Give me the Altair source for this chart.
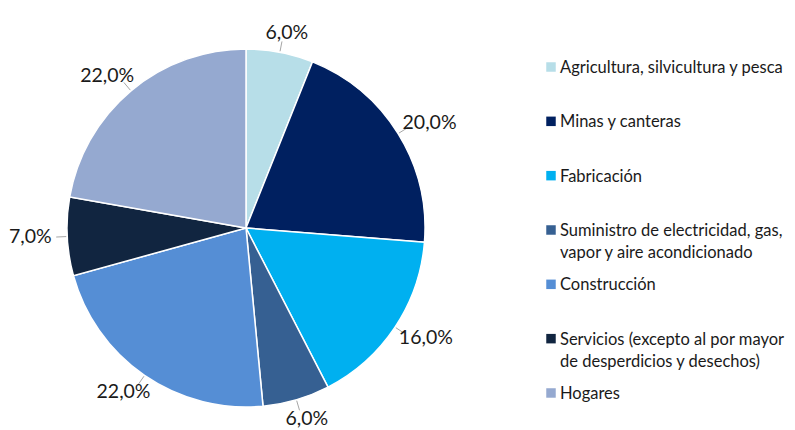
import altair as alt
import pandas as pd

categories = [
    "Agricultura, silvicultura y pesca",
    "Minas y canteras",
    "Fabricación",
    "Suministro de electricidad, gas, vapor y aire acondicionado",
    "Construcción",
    "Servicios (excepto al por mayor de desperdicios y desechos)",
    "Hogares",
]
legend_labels = [
    "Agricultura, silvicultura y pesca",
    "Minas y canteras",
    "Fabricación",
    "Suministro de electricidad, gas,\nvapor y aire acondicionado",
    "Construcción",
    "Servicios (excepto al por mayor\nde desperdicios y desechos)",
    "Hogares",
]
values = [6.0, 20.0, 16.0, 6.0, 22.0, 7.0, 22.0]
pct_labels = ["6,0%", "20,0%", "16,0%", "6,0%", "22,0%", "7,0%", "22,0%"]
colors = ["#B7DEE8", "#002060", "#00B0F0", "#366092", "#558ED5", "#112540", "#95A9D0"]

df = pd.DataFrame({
    "cat": categories,
    "value": values,
    "label": pct_labels,
    "legend": legend_labels,
    "idx": list(range(len(categories))),
})

FONT = "Lato"
CX, CY, RAD = 238, 220, 179
R_LBL, W_HALF, H_HALF = 190, 26, 9

color = alt.Color("cat:N", scale=alt.Scale(domain=categories, range=colors), legend=None)

base = (
    alt.Chart(df)
    .transform_joinaggregate(total="sum(value)")
    .transform_window(cum="sum(value)", sort=[alt.SortField("idx")])
    .transform_calculate(mid="2*PI*(datum.cum - datum.value/2)/datum.total")
)

arcs = alt.Chart(df).mark_arc(outerRadius=RAD, stroke="white", strokeWidth=1.5).encode(
    theta=alt.Theta("value:Q", stack=True),
    color=color,
    order=alt.Order("idx:Q"),
    x=alt.value(CX),
    y=alt.value(CY),
)

leaders = base.transform_calculate(
    x1=f"{CX} + {RAD + 1}*sin(datum.mid)",
    y1=f"{CY} - {RAD + 1}*cos(datum.mid)",
    x2=f"{CX} + {R_LBL}*sin(datum.mid)",
    y2=f"{CY} - {R_LBL}*cos(datum.mid)",
).mark_rule(color="#A6A6A6", strokeWidth=1).encode(
    x=alt.X("x1:Q", scale=None),
    y=alt.Y("y1:Q", scale=None),
    x2="x2:Q",
    y2="y2:Q",
)

labels = base.transform_calculate(
    lx=f"{CX} + {R_LBL + W_HALF}*sin(datum.mid)",
    ly=f"{CY} - {R_LBL + H_HALF}*cos(datum.mid)",
).mark_text(font=FONT, fontSize=19.5, color="#1a1a1a", baseline="middle", align="center").encode(
    x=alt.X("lx:Q", scale=None),
    y=alt.Y("ly:Q", scale=None),
    text="label:N",
)

leg_base = alt.Chart(df).transform_calculate(ly="59 + datum.idx*54.33")

leg_sym = leg_base.mark_square(size=90, opacity=1).encode(
    x=alt.value(543),
    y=alt.Y("ly:Q", scale=None),
    color=color,
)

leg_txt = leg_base.transform_calculate(ty="datum.ly + 6").mark_text(
    font=FONT, fontSize=16.5, color="#1a1a1a", align="left", baseline="alphabetic",
    lineBreak="\n", lineHeight=22,
).encode(
    x=alt.value(552),
    y=alt.Y("ty:Q", scale=None),
    text="legend:N",
)

chart = alt.layer(arcs, leaders, labels, leg_sym, leg_txt).properties(
    width=779,
    height=422,
    autosize=alt.AutoSizeParams(type="none"),
    padding=0,
).configure_view(stroke=None)

chart.save("out.html", embed_options={"renderer": "svg", "actions": False})
